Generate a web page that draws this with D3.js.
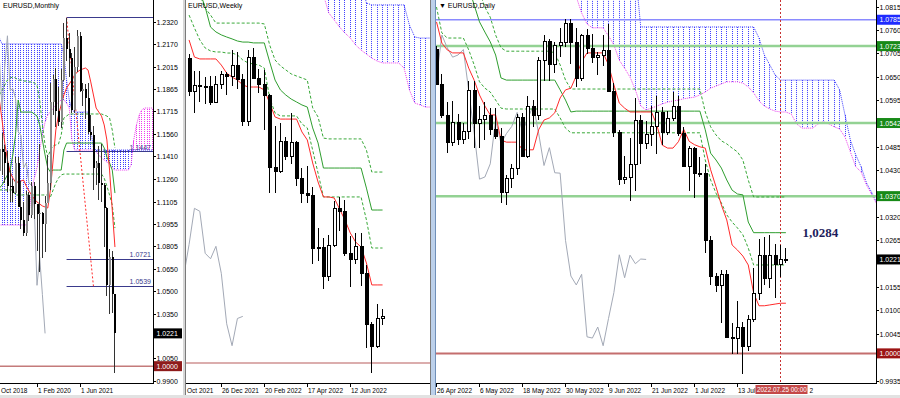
<!DOCTYPE html>
<html><head><meta charset="utf-8">
<script src="https://cdn.jsdelivr.net/npm/d3@7"></script>
<style>body{margin:0;background:#fff}svg{display:block}</style>
</head><body>
<svg id="c" width="900" height="398"></svg>
<script>
// ================= DATA =================
// ---- Daily (index 0 = 26 Apr 2022) ----
const dailyTickIdx = [0,8,16,24,32,40,48,56];
const dailyTickLabels = ["26 Apr 2022","6 May 2022","18 May 2022","30 May 2022","9 Jun 2022","21 Jun 2022","1 Jul 2022","13 Jul"];
const dailyOpen = [1.0716,1.0635,1.0560,1.0497,1.0545,1.0505,1.0524,1.0620,1.0543,1.0552,
1.0561,1.0529,1.0512,1.0380,1.0412,1.0436,1.0556,1.0465,1.0583,1.0561,
1.0690,1.0735,1.0680,1.0725,1.0733,1.0778,1.0733,1.0648,1.0749,1.0719,
1.0697,1.0702,1.0715,1.0617,1.0520,1.0410,1.0415,1.0446,1.0550,1.0494,
1.0517,1.0534,1.0567,1.0522,1.0553,1.0583,1.0518,1.0442,1.0484,1.0425,
1.0424,1.0266,1.0182,1.0161,1.0186,1.0039,1.0036,1.0062,1.0018,1.0082,
1.0143,1.0232,1.0178,1.0231,1.0211,1.0222];
const dailyHigh = [1.0723,1.0657,1.0592,1.0594,1.0563,1.0542,1.0642,1.0641,1.0583,1.0592,
1.0577,1.0578,1.0530,1.0420,1.0445,1.0563,1.0566,1.0606,1.0597,1.0698,
1.0748,1.0740,1.0733,1.0766,1.0787,1.0786,1.0765,1.0752,1.0764,1.0752,
1.0708,1.0748,1.0774,1.0636,1.0525,1.0464,1.0507,1.0601,1.0560,1.0546,
1.0582,1.0605,1.0579,1.0571,1.0615,1.0606,1.0533,1.0488,1.0486,1.0463,
1.0445,1.0276,1.0188,1.0196,1.0196,1.0071,1.0123,1.0073,1.0090,1.0201,
1.0270,1.0273,1.0278,1.0258,1.0254,1.0248];
const dailyLow = [1.0632,1.0554,1.0471,1.0487,1.0490,1.0492,1.0505,1.0483,1.0483,1.0503,
1.0513,1.0504,1.0354,1.0349,1.0389,1.0420,1.0464,1.0460,1.0532,1.0550,
1.0642,1.0642,1.0660,1.0698,1.0720,1.0682,1.0627,1.0641,1.0704,1.0683,
1.0654,1.0677,1.0614,1.0508,1.0397,1.0398,1.0358,1.0381,1.0445,1.0480,
1.0488,1.0469,1.0490,1.0513,1.0546,1.0511,1.0438,1.0382,1.0366,1.0415,
1.0236,1.0162,1.0144,1.0072,1.0036,0.9999,0.9998,0.9952,1.0006,1.0073,
1.0125,1.0160,1.0153,1.0130,1.0180,1.0212];
const dailyClose = [1.0635,1.0560,1.0497,1.0545,1.0505,1.0524,1.0620,1.0543,1.0552,1.0561,
1.0529,1.0512,1.0380,1.0412,1.0436,1.0556,1.0465,1.0583,1.0561,1.0690,
1.0735,1.0680,1.0725,1.0733,1.0778,1.0733,1.0648,1.0749,1.0719,1.0697,
1.0702,1.0715,1.0617,1.0520,1.0410,1.0415,1.0446,1.0550,1.0494,1.0517,
1.0534,1.0567,1.0522,1.0553,1.0583,1.0518,1.0442,1.0484,1.0425,1.0424,
1.0266,1.0182,1.0161,1.0186,1.0039,1.0036,1.0062,1.0018,1.0082,1.0143,
1.0232,1.0178,1.0231,1.0211,1.0222,1.0221];
const dailyTenkan = [1.0780,1.0730,1.0714,1.0707,1.0707,1.0707,1.0671,1.0643,1.0608,1.0582,
1.0561,1.0561,1.0502,1.0497,1.0497,1.0497,1.0479,1.0479,1.0479,1.0526,
1.0549,1.0554,1.0566,1.0601,1.0620,1.0624,1.0653,1.0686,1.0707,1.0707,
1.0707,1.0707,1.0679,1.0632,1.0589,1.0577,1.0568,1.0568,1.0568,1.0568,
1.0568,1.0537,1.0490,1.0483,1.0483,1.0498,1.0527,1.0499,1.0491,1.0486,
1.0483,1.0432,1.0392,1.0349,1.0314,1.0255,1.0243,1.0229,1.0208,1.0142,
1.0112,1.0112,1.0114,1.0116,1.0118,1.0118];
const dailyKijun = [1.0950,1.0935,1.0920,1.0905,1.0895,1.0890,1.0860,1.0820,1.0780,1.0756,
1.0733,1.0702,1.0648,1.0643,1.0643,1.0643,1.0643,1.0643,1.0643,1.0643,
1.0643,1.0643,1.0643,1.0620,1.0596,1.0568,1.0570,1.0570,1.0570,1.0570,
1.0570,1.0570,1.0570,1.0570,1.0570,1.0570,1.0570,1.0570,1.0570,1.0570,
1.0570,1.0570,1.0570,1.0570,1.0570,1.0570,1.0570,1.0570,1.0570,1.0570,
1.0526,1.0471,1.0455,1.0436,1.0408,1.0384,1.0375,1.0373,1.0309,1.0284,
1.0284,1.0284,1.0284,1.0284,1.0284,1.0284];
const dailyDashUp = [1.0990,1.0975,1.0960,1.0945,1.0930,1.0915,1.0900,1.0879,1.0850,1.0815,
1.0791,1.0749,1.0719,1.0711,1.0711,1.0711,1.0711,1.0711,1.0711,1.0711,
1.0711,1.0711,1.0707,1.0679,1.0643,1.0622,1.0622,1.0622,1.0622,1.0622,
1.0622,1.0622,1.0622,1.0622,1.0622,1.0622,1.0622,1.0622,1.0622,1.0622,
1.0622,1.0622,1.0622,1.0622,1.0622,1.0622,1.0622,1.0622,1.0622,1.0622,
1.0568,1.0533,1.0514,1.0500,1.0493,1.0483,1.0474,1.0455,1.0408,1.0368,
1.0368,1.0368,1.0368,1.0368,1.0368,1.0368];
const dailyDashLow = [1.0815,1.0754,1.0742,1.0742,1.0742,1.0742,1.0714,1.0679,1.0639,1.0624,
1.0615,1.0596,1.0577,1.0575,1.0575,1.0575,1.0575,1.0575,1.0575,1.0575,
1.0575,1.0575,1.0575,1.0554,1.0530,1.0519,1.0519,1.0519,1.0519,1.0519,
1.0519,1.0519,1.0519,1.0519,1.0519,1.0519,1.0519,1.0519,1.0519,1.0519,
1.0519,1.0519,1.0519,1.0519,1.0519,1.0519,1.0519,1.0519,1.0519,1.0519,
1.0455,1.0408,1.0377,1.0354,1.0326,1.0309,1.0295,1.0279,1.0248,1.0208,
1.0208,1.0208,1.0208,1.0208,1.0208,1.0208];
const dailyChikou = [1.0648,1.0749,1.0719,1.0697,1.0702,1.0715,1.0617,1.0520,1.0410,1.0415,
1.0446,1.0550,1.0494,1.0517,1.0534,1.0567,1.0522,1.0553,1.0583,1.0518,
1.0442,1.0484,1.0425,1.0424,1.0266,1.0182,1.0161,1.0186,1.0039,1.0036,
1.0062,1.0018,1.0082,1.0143,1.0232,1.0178,1.0231,1.0211,1.0222,1.0221];
const dailyCloudStart = 25;
const dailySpanA = [1.0900,1.0900,1.0900,1.0900,1.0900,1.0900,1.0900,1.0900,1.0900,1.0900,
1.0900,1.0900,1.0900,1.0768,1.0768,1.0768,1.0768,1.0768,1.0768,1.0768,
1.0768,1.0768,1.0768,1.0768,1.0768,1.0768,1.0768,1.0768,1.0768,1.0768,
1.0768,1.0768,1.0768,1.0768,1.0768,1.0742,1.0702,1.0679,1.0655,1.0643,
1.0643,1.0643,1.0643,1.0643,1.0643,1.0643,1.0643,1.0643,1.0643,1.0643,
1.0620,1.0561,1.0502,1.0467,1.0439,1.0401,1.0378,1.0352];
const dailySpanB = [1.0867,1.0839,1.0801,1.0775,1.0766,1.0766,1.0766,1.0747,1.0726,1.0690,
1.0671,1.0650,1.0620,1.0582,1.0573,1.0577,1.0582,1.0587,1.0591,1.0594,
1.0596,1.0599,1.0601,1.0603,1.0608,1.0615,1.0624,1.0629,1.0634,1.0639,
1.0639,1.0639,1.0636,1.0627,1.0613,1.0594,1.0582,1.0575,1.0570,1.0568,
1.0568,1.0563,1.0540,1.0530,1.0530,1.0530,1.0540,1.0545,1.0540,1.0533,
1.0528,1.0509,1.0474,1.0439,1.0427,1.0396,1.0373,1.0349];
const dailyLevels = [1.0785,1.0723,1.0542,1.0370,1.0000];
const dailyLevelLabels = ["1.0785","1.0723","1.0542","1.0370","1.0000"];
const dailyAxisLabels = ["1.0815","1.0760","1.0705","1.0650","1.0595","1.0485","1.0430","1.0320","1.0265","1.0155","1.0100","1.0045","0.9935"];
const dailyLastPrice = 1.0221;
const dailyKijunNote = "1,0284";
const dailyCursorIdx = 64;
const dailyCursorLabel = "2022.07.25 00:00";
const dailyCursorTail = "2";

// ---- Weekly (index 0 = 14 Nov 2021) ----
const weeklyTickIdx = [-2,6,14,22,30];
const weeklyTickLabels = ["Oct 2021","26 Dec 2021","20 Feb 2022","17 Apr 2022","12 Jun 2022"];
const weeklyOpen = [1.1445,1.1290,1.1317,1.1314,1.1315,1.1237,1.1323,1.1369,1.1359,1.1411,
1.1344,1.1146,1.1450,1.1349,1.1320,1.1270,1.0930,1.0912,1.1050,1.0983,
1.1046,1.0876,1.0806,1.0796,1.0545,1.0552,1.0412,1.0561,1.0733,1.0719,
1.0520,1.0494,1.0553,1.0425,1.0186,1.0082,1.0211];
const weeklyHigh = [1.1464,1.1383,1.1383,1.1355,1.1360,1.1360,1.1386,1.1377,1.1482,1.1474,
1.1370,1.1483,1.1495,1.1395,1.1390,1.1274,1.1121,1.1137,1.1070,1.1185,
1.1054,1.0924,1.0936,1.0836,1.0642,1.0592,1.0606,1.0766,1.0787,1.0774,
1.0601,1.0615,1.0615,1.0463,1.0196,1.0278,1.0254];
const weeklyLow = [1.1264,1.1186,1.1235,1.1227,1.1221,1.1235,1.1300,1.1272,1.1312,1.1300,
1.1121,1.1121,1.1375,1.1280,1.1106,1.0806,1.0806,1.0900,1.0960,1.0945,
1.0837,1.0760,1.0757,1.0470,1.0483,1.0349,1.0389,1.0550,1.0627,1.0508,
1.0358,1.0469,1.0366,1.0072,0.9952,1.0073,1.0180];
const weeklyClose = [1.1290,1.1317,1.1314,1.1315,1.1237,1.1323,1.1369,1.1359,1.1411,1.1344,
1.1146,1.1450,1.1349,1.1320,1.1270,1.0930,1.0912,1.1050,1.0983,1.1046,
1.0876,1.0806,1.0796,1.0545,1.0552,1.0412,1.0561,1.0733,1.0719,1.0520,
1.0494,1.0553,1.0425,1.0186,1.0082,1.0211,1.0221];
const weeklyTenkan = [1.1531,1.1450,1.1441,1.1441,1.1441,1.1441,1.1412,1.1374,1.1355,1.1341,
1.1318,1.1308,1.1308,1.1308,1.1294,1.1232,1.1166,1.1156,1.1156,1.1156,
1.1156,1.1095,1.1057,1.0948,1.0858,1.0787,1.0787,1.0782,1.0730,1.0678,
1.0616,1.0573,1.0550,1.0474,1.0370,1.0370,1.0370];
const weeklyKijun = [1.1815,1.1791,1.1758,1.1687,1.1592,1.1569,1.1555,1.1545,1.1536,1.1526,
1.1521,1.1521,1.1517,1.1517,1.1517,1.1427,1.1341,1.1294,1.1270,1.1251,
1.1237,1.1223,1.1213,1.1114,1.1043,1.0924,1.0924,1.0924,1.0924,1.0924,
1.0924,1.0924,1.0924,1.0829,1.0725,1.0725,1.0725];
const weeklyDashUp = [1.1910,1.1839,1.1744,1.1682,1.1649,1.1611,1.1611,1.1611,1.1611,1.1611,
1.1611,1.1611,1.1611,1.1611,1.1607,1.1507,1.1436,1.1408,1.1389,1.1370,
1.1360,1.1351,1.1341,1.1209,1.1166,1.1066,1.1062,1.1062,1.1062,1.1062,
1.1062,1.1062,1.1062,1.1009,1.0905,1.0905,1.0905];
const weeklyDashLow = [1.1649,1.1588,1.1531,1.1493,1.1479,1.1474,1.1474,1.1469,1.1469,1.1460,
1.1436,1.1422,1.1417,1.1412,1.1398,1.1256,1.1185,1.1171,1.1171,1.1171,
1.1171,1.1133,1.1114,1.1009,1.0900,1.0787,1.0787,1.0787,1.0787,1.0787,
1.0787,1.0787,1.0787,1.0678,1.0545,1.0545,1.0545];
const weeklyChikouStart = -1;
const weeklyChikou = [1.0412,1.0561,1.0733,1.0719,1.0520,1.0494,1.0553,1.0425,1.0186,1.0082,1.0211,1.0221];
const weeklyCloudStart = 25;
const weeklySpanA = [1.1815,1.1815,1.1815,1.1815,1.1815,1.1815,1.1815,1.1815,1.1706,1.1697,
1.1697,1.1697,1.1697,1.1697,1.1697,1.1697,1.1602,1.1545,1.1540,1.1540,1.1540];
const weeklySpanB = [1.1744,1.1659,1.1626,1.1592,1.1564,1.1540,1.1507,1.1483,1.1464,1.1445,
1.1431,1.1422,1.1422,1.1422,1.1422,1.1398,1.1294,1.1232,1.1223,1.1213,1.1213];
const weeklyLevels = [1.0000];

// ---- Monthly (index 0 = Dec 2018) ----
const monthlyTickIdx = [-2,14,30];
const monthlyTickLabels = ["Oct 2018","1 Feb 2020","1 Jun 2021"];
const monthlyOpen = [1.1318,1.1467,1.1447,1.1371,1.1217,1.1214,1.1168,1.1370,1.1076,1.0985,
1.0899,1.1152,1.1017,1.1212,1.1093,1.1026,1.1031,1.0955,1.1100,1.1234,
1.1778,1.1937,1.1721,1.1646,1.1927,1.2215,1.2135,1.2075,1.1730,1.2018,
1.2227,1.1858,1.1870,1.1807,1.1580,1.1557,1.1337,1.1370,1.1235,1.1219,
1.1066,1.0545,1.0733,1.0484];
const monthlyHigh = [1.1486,1.1570,1.1489,1.1448,1.1324,1.1265,1.1412,1.1412,1.1250,1.1110,
1.1180,1.1176,1.1240,1.1239,1.1096,1.1496,1.1039,1.1147,1.1422,1.1909,
1.1966,1.2011,1.1880,1.2003,1.2310,1.2349,1.2243,1.2113,1.2150,1.2266,
1.2254,1.1909,1.1900,1.1909,1.1692,1.1616,1.1386,1.1482,1.1495,1.1233,
1.1076,1.0787,1.0774,1.0486];
const monthlyLow = [1.1267,1.1289,1.1234,1.1176,1.1110,1.1107,1.1160,1.1101,1.0926,1.0879,
1.0879,1.0981,1.1002,1.0992,1.0778,1.0636,1.0727,1.0767,1.1098,1.1185,
1.1696,1.1612,1.1622,1.1603,1.1925,1.2054,1.1952,1.1704,1.1704,1.1986,
1.1845,1.1752,1.1664,1.1562,1.1524,1.1186,1.1221,1.1121,1.1106,1.0806,
1.0470,1.0349,1.0358,0.9952];
const monthlyClose = [1.1467,1.1447,1.1371,1.1217,1.1214,1.1168,1.1370,1.1076,1.0985,1.0899,
1.1152,1.1017,1.1212,1.1093,1.1026,1.1031,1.0955,1.1100,1.1234,1.1778,
1.1937,1.1721,1.1646,1.1927,1.2215,1.2135,1.2075,1.1730,1.2018,1.2227,
1.1858,1.1870,1.1807,1.1580,1.1557,1.1337,1.1370,1.1235,1.1219,1.1066,
1.0545,1.0733,1.0484,1.0221];
const monthlyTenkan = [1.1794,1.1659,1.1504,1.1390,1.1309,1.1268,1.1241,1.1241,1.1248,1.1255,
1.1214,1.1181,1.1154,1.1127,1.1107,1.1093,1.1080,1.1073,1.1066,1.1188,
1.1390,1.1592,1.1693,1.1761,1.1828,1.1875,1.1902,1.1929,1.1963,1.1983,
1.1996,1.2003,1.2010,1.1996,1.1916,1.1828,1.1740,1.1713,1.1686,1.1626,
1.1525,1.1322,1.1053,1.0803];
const monthlyKijun = [1.1201,1.1221,1.1255,1.1289,1.1322,1.1424,1.1558,1.1794,1.1713,1.1713,
1.1713,1.1713,1.1713,1.1700,1.1686,1.1626,1.1525,1.1424,1.1336,1.1309,
1.1322,1.1322,1.1322,1.1322,1.1457,1.1504,1.1504,1.1504,1.1504,1.1504,
1.1504,1.1504,1.1504,1.1504,1.1504,1.1504,1.1504,1.1504,1.1504,1.1471,
1.1410,1.1370,1.1322,1.1167];
const monthlyDashUp = [1.1828,1.1862,1.1895,1.1929,1.1943,1.1949,1.1943,1.1929,1.1929,1.1922,
1.1922,1.1916,1.1916,1.1909,1.1895,1.1794,1.1626,1.1491,1.1410,1.1457,
1.1484,1.1491,1.1498,1.1558,1.1673,1.1686,1.1700,1.1700,1.1700,1.1700,
1.1700,1.1700,1.1700,1.1700,1.1700,1.1700,1.1700,1.1700,1.1700,1.1693,
1.1686,1.1673,1.1592,1.1471];
const monthlyDashLow = [1.1188,1.1188,1.1188,1.1188,1.1188,1.1188,1.1154,1.1154,1.1154,1.1154,
1.1154,1.1154,1.1154,1.1154,1.1154,1.1154,1.1154,1.1154,1.1154,1.1140,
1.1188,1.1235,1.1268,1.1289,1.1295,1.1295,1.1295,1.1295,1.1295,1.1295,
1.1295,1.1295,1.1295,1.1295,1.1295,1.1295,1.1295,1.1295,1.1295,1.1268,
1.1214,1.1154,1.1086,1.0931];
const monthlyChikouStart = -1;
const monthlyChikou = [1.2135,1.2075,1.1730,1.2018,1.2227,1.1858,1.1870,1.1807,1.1580,1.1557,
1.1337,1.1370,1.1235,1.1219,1.1066,1.0545,1.0733,1.0484,1.0221];
const monthlyCloudStart = 0;
const monthlySpanA = [1.2212,1.2172,1.2172,1.2172,1.2172,1.2172,1.2172,1.2172,1.2172,1.2172,
1.2172,1.2172,1.2172,1.2172,1.2172,1.2172,1.2172,1.2172,1.2172,1.2172,
1.2172,1.2172,1.2172,1.2172,1.2098,1.1929,1.1794,1.1727,1.1713,1.1713,
1.1713,1.1713,1.1713,1.1713,1.1592,1.1471,1.1457,1.1457,1.1457,1.1457,
1.1457,1.1457,1.1457,1.1457,1.1457,1.1457,1.1457,1.1457,1.1457,1.1457,
1.1457,1.1457,1.1457,1.1457,1.1457,1.1457,1.1457,1.1457,1.1457];
const monthlySpanB = [1.0952,1.0952,1.0952,1.0952,1.0952,1.0952,1.0952,1.0952,1.0952,1.0952,
1.0952,1.1019,1.1188,1.1268,1.1336,1.1457,1.1558,1.1646,1.1693,1.1713,
1.1740,1.1761,1.1781,1.1794,1.1794,1.1774,1.1740,1.1525,1.1457,1.1457,
1.1457,1.1457,1.1457,1.1457,1.1457,1.1457,1.1444,1.1424,1.1403,1.1390,
1.1376,1.1363,1.1336,1.1322,1.1322,1.1322,1.1322,1.1322,1.1322,1.1356,
1.1525,1.1626,1.1693,1.1727,1.1740,1.1740,1.1740,1.1740,1.1740];
const monthlyRayStart = 25;
const monthlyRays = [1.2349,1.1447,1.0721,1.0539];
const monthlyRayLabels = ["","1.1447","1.0721","1.0539"];
const monthlyTrend = [[25,1.2349],[35,1.0539]];
const monthlyLevels = [1.0000];
const monthlyAxisLabels = ["1.2320","1.2170","1.2015","1.1865","1.1715","1.1560","1.1410","1.1260","1.1105","1.0955","1.0805","1.0650","1.0500","1.0350","1.0050","0.9900"];
const monthlyLastPrice = 1.0221;

// ================= DRAWING =================
const FONT = "'Liberation Sans', Arial, sans-serif";
const BLUE = "#3a3aff", MAG = "#ee3cee", RED = "#ff2a2a", GREEN = "#2f9e2f", DGREEN = "#38a838", GRAY = "#a3a9b6";
const svg = d3.select('#c');
const defs = svg.append('defs');
svg.append('rect').attr('width',900).attr('height',398).attr('fill','#fff');

function clipRect(id, x, y, w, h){
  defs.append('clipPath').attr('id', id).append('rect').attr('x',x).attr('y',y).attr('width',w).attr('height',h);
  return `url(#${id})`;
}
const pc = v => Math.round(v - 0.5) + 0.5;

function polyline(g, xs, ys, start, vals, color, dash, width){
  const line = d3.line().x((d,i)=>xs(start+i)).y(d=>ys(d));
  g.append('path').attr('d', line(vals)).attr('fill','none').attr('stroke',color)
   .attr('stroke-width', width||1).attr('stroke-dasharray', dash||null);
}
function cloud(g, xs, ys, start, A, B){
  A.forEach((a,k)=>{
    const b = B[k], x = pc(xs(start+k));
    g.append('line').attr('x1',x).attr('x2',x).attr('y1',ys(a)).attr('y2',ys(b))
     .attr('stroke', a>=b ? BLUE : MAG).attr('stroke-dasharray','1,1').attr('stroke-width',1);
  });
  polyline(g, xs, ys, start, A, BLUE, '1,1');
  polyline(g, xs, ys, start, B, MAG, '1,1');
}
function candles(g, xs, ys, O, Hh, L, C, bw, mono){
  O.forEach((o,i)=>{
    const x = pc(xs(i));
    const c = C[i];
    g.append('line').attr('x1',x).attr('x2',x).attr('y1',ys(Hh[i])).attr('y2',ys(L[i]))
      .attr('stroke', mono ? '#333' : '#000').attr('shape-rendering','crispEdges');
    const top = ys(Math.max(o,c)), bot = ys(Math.min(o,c));
    if (mono){
      g.append('rect').attr('x', x-1).attr('y', top).attr('width', 2).attr('height', Math.max(bot-top,1))
       .attr('fill', c>o ? '#8a8a8a' : '#000').attr('shape-rendering','crispEdges');
    } else {
      g.append('rect').attr('x', x-(bw-1)/2).attr('y', Math.round(top)+0.5).attr('width', bw-1)
       .attr('height', Math.max(Math.round(bot)-Math.round(top),1))
       .attr('fill', c>o ? '#fff' : '#000').attr('stroke','#000').attr('shape-rendering','crispEdges');
    }
  });
}
function dateAxis(xs, left, right, idx, labels, id){
  const g = svg.append('g').attr('clip-path', clipRect(id, left, 380, right-left, 18));
  g.append('line').attr('x1',left).attr('x2',right).attr('y1',383.5).attr('y2',383.5).attr('stroke','#000');
  idx.forEach((k,j)=>{
    const x = pc(xs(k));
    g.append('line').attr('x1',x).attr('x2',x).attr('y1',383).attr('y2',387).attr('stroke','#000');
    g.append('text').attr('x',Math.max(x+0.5,left+1)).attr('y',392.5).text(labels[j])
     .attr('font-family',FONT).attr('font-size',6.5).attr('fill','#000');
  });
}
function priceAxis(ys, axisX, labels){
  svg.append('line').attr('x1',axisX+0.5).attr('x2',axisX+0.5).attr('y1',0).attr('y2',384).attr('stroke','#000');
  labels.forEach(s=>{
    const y = pc(ys(parseFloat(s)));
    svg.append('line').attr('x1',axisX).attr('x2',axisX+3).attr('y1',y).attr('y2',y).attr('stroke','#000');
    svg.append('text').attr('x',axisX+3.5).attr('y',y+2.6).text(s)
      .attr('font-family',FONT).attr('font-size',7).attr('fill','#000');
  });
}
function priceBox(ys, axisX, v, label, bg, w){
  const y = ys(v);
  svg.append('rect').attr('x',axisX+1).attr('y',y-5).attr('width',w).attr('height',10).attr('fill',bg);
  svg.append('text').attr('x',axisX+3.5).attr('y',y+2.6).text(label)
    .attr('font-family',FONT).attr('font-size',7).attr('fill','#fff');
}

// ---------- MONTHLY ----------
{
  const xs = d3.scaleLinear().domain([14,30]).range([37,80]);
  const ys = d3.scaleLinear().domain([0.99,1.232]).range([381,22]);
  const g = svg.append('g').attr('clip-path', clipRect('mclip',0,0,153,383));
  cloud(g, xs, ys, monthlyCloudStart, monthlySpanA, monthlySpanB);
  monthlyRays.forEach((v,k)=>{
    const y = pc(ys(v));
    g.append('line').attr('x1',xs(monthlyRayStart)).attr('x2',153).attr('y1',y).attr('y2',y).attr('stroke','#3a3a8c');
  });
  monthlyLevels.forEach(v=>{
    g.append('line').attr('x1',0).attr('x2',153).attr('y1',ys(v)).attr('y2',ys(v)).attr('stroke','#c47a7a').attr('stroke-width',1.5);
  });
  polyline(g, xs, ys, 0, monthlyDashUp, DGREEN, '3,2');
  polyline(g, xs, ys, 0, monthlyDashLow, DGREEN, '3,2');
  polyline(g, xs, ys, monthlyChikouStart, monthlyChikou, GRAY);
  g.append('line').attr('x1',xs(monthlyTrend[0][0])).attr('y1',ys(monthlyTrend[0][1]))
   .attr('x2',xs(monthlyTrend[1][0])).attr('y2',ys(monthlyTrend[1][1]))
   .attr('stroke',RED).attr('stroke-dasharray','2,2');
  polyline(g, xs, ys, 0, monthlyKijun, GREEN);
  polyline(g, xs, ys, 0, monthlyTenkan, RED);
  candles(g, xs, ys, monthlyOpen, monthlyHigh, monthlyLow, monthlyClose, 2, true);
  monthlyRays.forEach((v,k)=>{
    if (!monthlyRayLabels[k]) return;
    g.append('text').attr('x',151).attr('y',ys(v)-2).attr('text-anchor','end').text(monthlyRayLabels[k])
     .attr('font-family',FONT).attr('font-size',7).attr('fill','#3a3a8c');
  });
  g.append('text').attr('x',3).attr('y',8).text('EURUSD,Monthly').attr('font-family',FONT).attr('font-size',7).attr('fill','#000');
  priceAxis(ys, 153, monthlyAxisLabels);
  priceBox(ys, 153, monthlyLastPrice, monthlyLastPrice.toFixed(4), '#000', 28);
  priceBox(ys, 153, monthlyLevels[0], '1.0000', '#8e1b1b', 28);
  dateAxis(xs, 0, 153, monthlyTickIdx, monthlyTickLabels, 'mdate');
}

// ---------- WEEKLY ----------
{
  const xs = d3.scaleLinear().domain([6,30]).range([221.3,350.3]);
  const ys = d3.scaleLinear().domain([1.0,1.1]).range([363,152]);
  const g = svg.append('g').attr('clip-path', clipRect('wclip',186,0,244,383));
  cloud(g, xs, ys, weeklyCloudStart, weeklySpanA, weeklySpanB);
  weeklyLevels.forEach(v=>{
    g.append('line').attr('x1',186).attr('x2',430).attr('y1',ys(v)).attr('y2',ys(v)).attr('stroke','#b85c5c').attr('stroke-width',1.2);
  });
  polyline(g, xs, ys, weeklyChikouStart, weeklyChikou, GRAY);
  polyline(g, xs, ys, 0, weeklyDashUp, DGREEN, '3,2');
  polyline(g, xs, ys, 0, weeklyDashLow, DGREEN, '3,2');
  polyline(g, xs, ys, 0, weeklyKijun, GREEN);
  polyline(g, xs, ys, 0, weeklyTenkan, RED);
  candles(g, xs, ys, weeklyOpen, weeklyHigh, weeklyLow, weeklyClose, 4, false);
  g.append('text').attr('x',188).attr('y',8).text('EURUSD,Weekly').attr('font-family',FONT).attr('font-size',7).attr('fill','#000');
  dateAxis(xs, 186, 430, weeklyTickIdx, weeklyTickLabels, 'wdate');
}

// ---------- DAILY ----------
{
  const xs = d3.scaleLinear().domain([0,64]).range([436.5,780.5]);
  const ys = d3.scaleLinear().domain([0.9935,1.0815]).range([381,7]);
  const g = svg.append('g').attr('clip-path', clipRect('dclip',436,0,440,383));
  const levelStyle = [{c:'#8a8aff',w:1.5,box:'#1f2bff'},{c:'#93d293',w:2.5,box:'#188a18'},{c:'#93d293',w:2.5,box:'#188a18'},{c:'#93d293',w:2.5,box:'#188a18'},{c:'#c46e6e',w:2,box:'#9c1414'}];
  cloud(g, xs, ys, dailyCloudStart, dailySpanA, dailySpanB);
  dailyLevels.forEach((v,k)=>{
    g.append('line').attr('x1',436).attr('x2',876).attr('y1',ys(v)).attr('y2',ys(v))
     .attr('stroke',levelStyle[k].c).attr('stroke-width',levelStyle[k].w);
  });
  polyline(g, xs, ys, 0, dailyChikou, GRAY);
  polyline(g, xs, ys, 0, dailyDashUp, DGREEN, '3,2');
  polyline(g, xs, ys, 0, dailyDashLow, DGREEN, '3,2');
  polyline(g, xs, ys, 0, dailyKijun, GREEN);
  polyline(g, xs, ys, 0, dailyTenkan, RED);
  const cx = pc(xs(dailyCursorIdx));
  g.append('line').attr('x1',cx).attr('x2',cx).attr('y1',0).attr('y2',383).attr('stroke','#c83232').attr('stroke-dasharray','2,2');
  candles(g, xs, ys, dailyOpen, dailyHigh, dailyLow, dailyClose, 4, false);
  g.append('text').attr('x',xs(68)+0.5).attr('y',ys(dailyKijun[65])+4.5).text(dailyKijunNote)
   .attr('font-family',"'Liberation Serif','Times New Roman',serif").attr('font-weight','bold').attr('font-size',13).attr('fill','#1d1d5c');
  g.append('text').attr('x',439).attr('y',8).text('\u25BC EURUSD,Daily').attr('font-family',FONT).attr('font-size',7).attr('fill','#000');
  priceAxis(ys, 876, dailyAxisLabels);
  dailyLevels.forEach((v,k)=> priceBox(ys, 876, v, dailyLevelLabels[k], levelStyle[k].box, 24));
  priceBox(ys, 876, dailyLastPrice, dailyLastPrice.toFixed(4), '#000', 24);
  dateAxis(xs, 436, 876, dailyTickIdx, dailyTickLabels, 'ddate');
  svg.append('rect').attr('x',cx-25).attr('y',385).attr('width',52).attr('height',9).attr('fill','#c44848');
  svg.append('text').attr('x',cx-23.5).attr('y',392.2).text(dailyCursorLabel)
   .attr('font-family',FONT).attr('font-size',6.4).attr('fill','#fff');
  svg.append('text').attr('x',cx+29).attr('y',392.5).text(dailyCursorTail)
   .attr('font-family',FONT).attr('font-size',6.5).attr('fill','#000');
}

// ---------- FRAMES ----------
svg.append('rect').attr('x',183).attr('y',0).attr('width',3).attr('height',398).attr('fill','#d6d6d6');
svg.append('line').attr('x1',185.5).attr('x2',185.5).attr('y1',0).attr('y2',398).attr('stroke','#7a7a7a');
svg.append('line').attr('x1',430.5).attr('x2',430.5).attr('y1',0).attr('y2',398).attr('stroke','#7a7a7a');
svg.append('rect').attr('x',431).attr('y',0).attr('width',4).attr('height',398).attr('fill','#bcd0ea');
svg.append('line').attr('x1',435.5).attr('x2',435.5).attr('y1',0).attr('y2',398).attr('stroke','#6f8fb8');
svg.append('rect').attr('x',0).attr('y',395).attr('width',900).attr('height',3).attr('fill','#e2e2e2');
</script>
</body></html>
